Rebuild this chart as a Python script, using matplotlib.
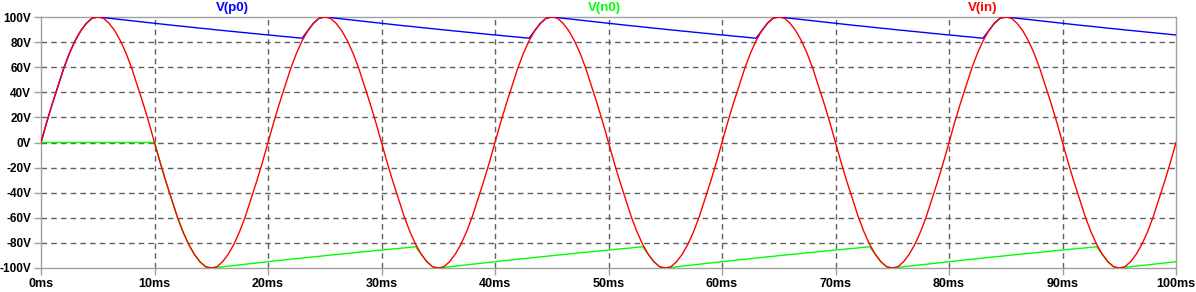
import numpy as np
import matplotlib
matplotlib.use("Agg")
import matplotlib.pyplot as plt

plt.rcParams["font.family"] = ["Liberation Sans", "DejaVu Sans"]

# time axis in ms, samples every 0.5 ms
t_ms = np.arange(0, 100.0001, 0.5)

# V(in): sine source (V), every 0.5 ms
v_in = [
    0, 16, 31, 45, 59, 71, 81, 89, 95, 99, 100, 99, 95, 89, 81, 71, 59, 45, 31, 16,
    0, -16, -31, -45, -59, -71, -81, -89, -95, -99, -100, -99, -95, -89, -81, -71, -59, -45, -31, -16,
    0, 16, 31, 45, 59, 71, 81, 89, 95, 99, 100, 99, 95, 89, 81, 71, 59, 45, 31, 16,
    0, -16, -31, -45, -59, -71, -81, -89, -95, -99, -100, -99, -95, -89, -81, -71, -59, -45, -31, -16,
    0, 16, 31, 45, 59, 71, 81, 89, 95, 99, 100, 99, 95, 89, 81, 71, 59, 45, 31, 16,
    0, -16, -31, -45, -59, -71, -81, -89, -95, -99, -100, -99, -95, -89, -81, -71, -59, -45, -31, -16,
    0, 16, 31, 45, 59, 71, 81, 89, 95, 99, 100, 99, 95, 89, 81, 71, 59, 45, 31, 16,
    0, -16, -31, -45, -59, -71, -81, -89, -95, -99, -100, -99, -95, -89, -81, -71, -59, -45, -31, -16,
    0, 16, 31, 45, 59, 71, 81, 89, 95, 99, 100, 99, 95, 89, 81, 71, 59, 45, 31, 16,
    0, -16, -31, -45, -59, -71, -81, -89, -95, -99, -100, -99, -95, -89, -81, -71, -59, -45, -31, -16,
    0,
]

# V(p0): positive peak detector output (V), every 0.5 ms
v_p0 = [
    0, 16, 31, 45, 59, 71, 81, 89, 95, 99, 100,
    99.5, 99.0, 98.5, 98.0, 97.5, 97.0, 96.5, 96.0, 95.5, 95.0, 94.5, 94.0, 93.5, 93.0, 92.6, 92.1, 91.6, 91.1,
    90.7, 90.2, 89.7, 89.3, 88.8, 88.4, 87.9, 87.5, 87.0, 86.6, 86.1, 85.7, 85.3, 84.8, 84.4, 84.0, 83.5, 83.1,
    89, 95, 99, 100,
    99.5, 99.0, 98.5, 98.0, 97.5, 97.0, 96.5, 96.0, 95.5, 95.0, 94.5, 94.0, 93.5, 93.0, 92.6, 92.1, 91.6, 91.1,
    90.7, 90.2, 89.7, 89.3, 88.8, 88.4, 87.9, 87.5, 87.0, 86.6, 86.1, 85.7, 85.3, 84.8, 84.4, 84.0, 83.5, 83.1,
    89, 95, 99, 100,
    99.5, 99.0, 98.5, 98.0, 97.5, 97.0, 96.5, 96.0, 95.5, 95.0, 94.5, 94.0, 93.5, 93.0, 92.6, 92.1, 91.6, 91.1,
    90.7, 90.2, 89.7, 89.3, 88.8, 88.4, 87.9, 87.5, 87.0, 86.6, 86.1, 85.7, 85.3, 84.8, 84.4, 84.0, 83.5, 83.1,
    89, 95, 99, 100,
    99.5, 99.0, 98.5, 98.0, 97.5, 97.0, 96.5, 96.0, 95.5, 95.0, 94.5, 94.0, 93.5, 93.0, 92.6, 92.1, 91.6, 91.1,
    90.7, 90.2, 89.7, 89.3, 88.8, 88.4, 87.9, 87.5, 87.0, 86.6, 86.1, 85.7, 85.3, 84.8, 84.4, 84.0, 83.5, 83.1,
    89, 95, 99, 100,
    99.5, 99.0, 98.5, 98.0, 97.5, 97.0, 96.5, 96.0, 95.5, 95.0, 94.5, 94.0, 93.5, 93.0, 92.6, 92.1, 91.6, 91.1,
    90.7, 90.2, 89.7, 89.3, 88.8, 88.4, 87.9, 87.5, 87.0, 86.6, 86.1, 85.7,
]

# V(n0): negative peak detector output (V), every 0.5 ms
v_n0 = [
    0, 0, 0, 0, 0, 0, 0, 0, 0, 0, 0, 0, 0, 0, 0, 0, 0, 0, 0, 0,
    0, -16, -31, -45, -59, -71, -81, -89, -95, -99, -100,
    -99.5, -99.0, -98.5, -98.0, -97.5, -97.0, -96.5, -96.0, -95.5, -95.0, -94.5, -94.0, -93.5, -93.0, -92.6, -92.1, -91.6, -91.1,
    -90.7, -90.2, -89.7, -89.3, -88.8, -88.4, -87.9, -87.5, -87.0, -86.6, -86.1, -85.7, -85.3, -84.8, -84.4, -84.0, -83.5, -83.1,
    -89, -95, -99, -100,
    -99.5, -99.0, -98.5, -98.0, -97.5, -97.0, -96.5, -96.0, -95.5, -95.0, -94.5, -94.0, -93.5, -93.0, -92.6, -92.1, -91.6, -91.1,
    -90.7, -90.2, -89.7, -89.3, -88.8, -88.4, -87.9, -87.5, -87.0, -86.6, -86.1, -85.7, -85.3, -84.8, -84.4, -84.0, -83.5, -83.1,
    -89, -95, -99, -100,
    -99.5, -99.0, -98.5, -98.0, -97.5, -97.0, -96.5, -96.0, -95.5, -95.0, -94.5, -94.0, -93.5, -93.0, -92.6, -92.1, -91.6, -91.1,
    -90.7, -90.2, -89.7, -89.3, -88.8, -88.4, -87.9, -87.5, -87.0, -86.6, -86.1, -85.7, -85.3, -84.8, -84.4, -84.0, -83.5, -83.1,
    -89, -95, -99, -100,
    -99.5, -99.0, -98.5, -98.0, -97.5, -97.0, -96.5, -96.0, -95.5, -95.0, -94.5, -94.0, -93.5, -93.0, -92.6, -92.1, -91.6, -91.1,
    -90.7, -90.2, -89.7, -89.3, -88.8, -88.4, -87.9, -87.5, -87.0, -86.6, -86.1, -85.7, -85.3, -84.8, -84.4, -84.0, -83.5, -83.1,
    -89, -95, -99, -100,
    -99.5, -99.0, -98.5, -98.0, -97.5, -97.0, -96.5, -96.0, -95.5, -95.0,
]

x_ticks = [0, 10, 20, 30, 40, 50, 60, 70, 80, 90, 100]
x_tick_labels = ["0ms", "10ms", "20ms", "30ms", "40ms", "50ms", "60ms", "70ms", "80ms", "90ms", "100ms"]
y_ticks = [-100, -80, -60, -40, -20, 0, 20, 40, 60, 80, 100]
y_tick_labels = ["-100V", "-80V", "-60V", "-40V", "-20V", "0V", "20V", "40V", "60V", "80V", "100V"]
trace_names = ["V(p0)", "V(n0)", "V(in)"]
trace_colors = ["#0000ff", "#00ff00", "#ff0000"]

W, H = 1196, 292
fig = plt.figure(figsize=(W / 100, H / 100), dpi=100)
L, R, T, B = 41, 1176, 17, 268
ax = fig.add_axes([L / W, 1 - B / H, (R - L) / W, (B - T) / H])

ax.set_xlim(0, 100)
ax.set_ylim(-100, 100)

for s in ax.spines.values():
    s.set_color("#a0a0a0")
    s.set_linewidth(1.0)

ax.set_xticks(x_ticks)
ax.set_xticklabels(x_tick_labels)
ax.set_yticks(y_ticks)
ax.set_yticklabels(y_tick_labels)
ax.tick_params(axis="both", direction="out", length=5, width=1.0, color="#a0a0a0",
               labelcolor="#000000")
ax.tick_params(axis="y", pad=2, labelsize=8.5)
ax.tick_params(axis="x", pad=2, labelsize=9)
for lbl in ax.get_xticklabels() + ax.get_yticklabels():
    lbl.set_fontweight("bold")

# grid lines (skip the frame edges)
for x in x_ticks[1:-1]:
    ax.axvline(x, color="#606060", lw=1.0, ls=(0, (4, 3)), zorder=1)
for y in y_ticks[1:-1]:
    ax.axhline(y, color="#606060", lw=1.0, ls=(0, (4, 3)), zorder=1)

ax.plot(t_ms, v_p0, color=trace_colors[0], lw=1.0, zorder=3)
ax.plot(t_ms, v_n0, color=trace_colors[1], lw=1.0, zorder=3)
ax.plot(t_ms, v_in, color=trace_colors[2], lw=1.0, zorder=4)

label_x = [232, 604, 983]
for name, col, lx in zip(trace_names, trace_colors, label_x):
    fig.text(lx / W, 1 - 8 / H, name, color=col, fontsize=9.5, fontweight="bold",
             ha="center", va="center")

fig.savefig("out.png", dpi=100, facecolor="white")
